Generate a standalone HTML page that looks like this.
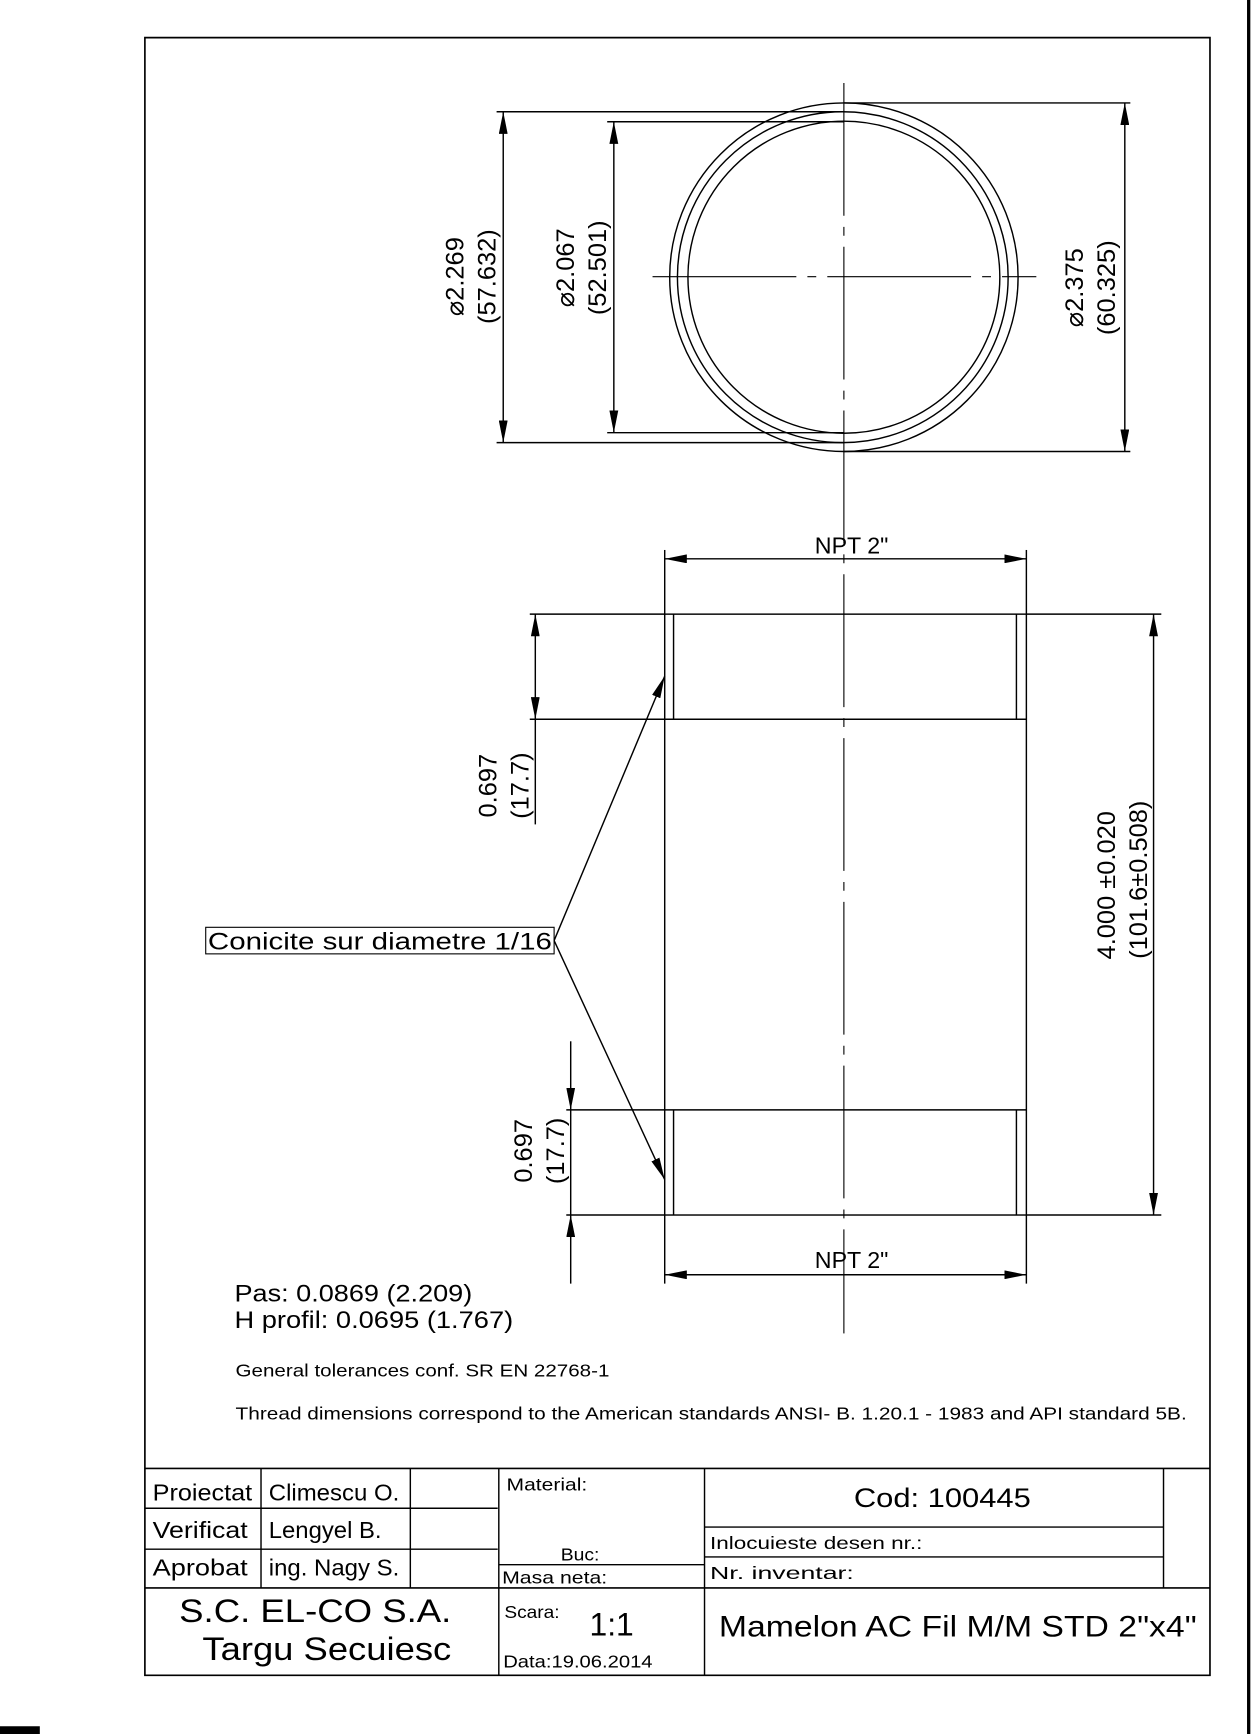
<!DOCTYPE html>
<html><head><meta charset="utf-8"><style>
html,body{margin:0;padding:0;background:#fff;}
svg{display:block;}
text{font-family:"Liberation Sans",sans-serif;fill:#000;}
</style></head><body>
<svg width="1252" height="1734" viewBox="0 0 1132 1567" preserveAspectRatio="none" xmlns="http://www.w3.org/2000/svg">
<defs>
<marker id="a" viewBox="0 0 20 8" refX="20" refY="4" markerWidth="20" markerHeight="8" markerUnits="userSpaceOnUse" orient="auto-start-reverse"><path d="M0,0 L20,4 L0,8 z" fill="#000"/></marker>
</defs>
<g stroke="#000" fill="none" stroke-width="1.3">
<path d="M131,34 L1094,34 L1094,1514 L131,1514 Z" stroke-width="1.5"/>
<line x1="1129" y1="0" x2="1129" y2="1567" stroke-width="3"/>
<circle cx="763" cy="250.5" r="157.5"/>
<circle cx="762" cy="250.5" r="149.5"/>
<circle cx="763" cy="250.5" r="141"/>
<line x1="763" y1="75" x2="763" y2="1205" stroke-width="1" stroke-dasharray="120,10,8,10"/>
<line x1="590" y1="250" x2="937" y2="250" stroke-width="1" stroke-dasharray="130,10,8,10"/>
<line x1="449" y1="101" x2="763" y2="101"/>
<line x1="449" y1="400" x2="763" y2="400"/>
<line x1="455" y1="101" x2="455" y2="400" marker-start="url(#a)" marker-end="url(#a)"/>
<line x1="549" y1="110" x2="763" y2="110"/>
<line x1="549" y1="391" x2="763" y2="391"/>
<line x1="555" y1="110" x2="555" y2="391" marker-start="url(#a)" marker-end="url(#a)"/>
<line x1="763" y1="93" x2="1022" y2="93"/>
<line x1="763" y1="408" x2="1022" y2="408"/>
<line x1="1017" y1="93" x2="1017" y2="408" marker-start="url(#a)" marker-end="url(#a)"/>
<rect x="601" y="555" width="327" height="543"/>
<line x1="601" y1="650" x2="928" y2="650"/>
<line x1="601" y1="1003" x2="928" y2="1003"/>
<line x1="609" y1="555" x2="609" y2="650"/>
<line x1="919" y1="555" x2="919" y2="650"/>
<line x1="609" y1="1003" x2="609" y2="1098"/>
<line x1="919" y1="1003" x2="919" y2="1098"/>
<line x1="601" y1="497" x2="601" y2="555"/>
<line x1="928" y1="497" x2="928" y2="555"/>
<line x1="601" y1="505" x2="928" y2="505" marker-start="url(#a)" marker-end="url(#a)"/>
<line x1="601" y1="1098" x2="601" y2="1160"/>
<line x1="928" y1="1098" x2="928" y2="1160"/>
<line x1="601" y1="1152" x2="928" y2="1152" marker-start="url(#a)" marker-end="url(#a)"/>
<line x1="479" y1="555" x2="601" y2="555"/>
<line x1="479" y1="650" x2="601" y2="650"/>
<line x1="484" y1="555" x2="484" y2="650" marker-start="url(#a)" marker-end="url(#a)"/>
<line x1="484" y1="650" x2="484" y2="745"/>
<line x1="512" y1="1003" x2="601" y2="1003"/>
<line x1="512" y1="1098" x2="601" y2="1098"/>
<line x1="516" y1="941" x2="516" y2="1003" marker-end="url(#a)"/>
<line x1="516" y1="1160" x2="516" y2="1098" marker-end="url(#a)"/>
<line x1="516" y1="1003" x2="516" y2="1098"/>
<line x1="928" y1="555" x2="1050" y2="555"/>
<line x1="928" y1="1098" x2="1050" y2="1098"/>
<line x1="1043" y1="555" x2="1043" y2="1098" marker-start="url(#a)" marker-end="url(#a)"/>
<rect x="186" y="838" width="315" height="24" stroke-width="1"/>
<line x1="501" y1="850" x2="601" y2="611" marker-end="url(#a)"/>
<line x1="501" y1="850" x2="601" y2="1066" marker-end="url(#a)"/>
<line x1="131" y1="1327" x2="1094" y2="1327" stroke-width="1.5"/>
<line x1="131" y1="1363" x2="450" y2="1363"/>
<line x1="131" y1="1400" x2="450" y2="1400"/>
<line x1="131" y1="1435" x2="1094" y2="1435" stroke-width="1.5"/>
<line x1="236" y1="1327" x2="236" y2="1435"/>
<line x1="371" y1="1327" x2="371" y2="1435"/>
<line x1="451" y1="1327" x2="451" y2="1514"/>
<line x1="637" y1="1327" x2="637" y2="1514"/>
<line x1="1052" y1="1327" x2="1052" y2="1435"/>
<line x1="451" y1="1414" x2="637" y2="1414"/>
<line x1="637" y1="1380" x2="1052" y2="1380"/>
<line x1="637" y1="1407" x2="1052" y2="1407"/>
</g>
<rect x="0" y="1560" width="36" height="7" fill="#000"/>
<g font-size="23">
<text transform="translate(419,250) rotate(-90)" text-anchor="middle">⌀2.269</text>
<text transform="translate(448,250) rotate(-90)" text-anchor="middle">(57.632)</text>
<text transform="translate(519,242) rotate(-90)" text-anchor="middle">⌀2.067</text>
<text transform="translate(548,242) rotate(-90)" text-anchor="middle">(52.501)</text>
<text transform="translate(979,260) rotate(-90)" text-anchor="middle">⌀2.375</text>
<text transform="translate(1008,260) rotate(-90)" text-anchor="middle">(60.325)</text>
<text transform="translate(449,710) rotate(-90)" text-anchor="middle">0.697</text>
<text transform="translate(478,710) rotate(-90)" text-anchor="middle">(17.7)</text>
<text transform="translate(481,1040) rotate(-90)" text-anchor="middle">0.697</text>
<text transform="translate(510,1040) rotate(-90)" text-anchor="middle">(17.7)</text>
<text transform="translate(1008,800) rotate(-90)" text-anchor="middle">4.000 ±0.020</text>
<text transform="translate(1037,795) rotate(-90)" text-anchor="middle">(101.6±0.508)</text>
<text x="770" y="500" text-anchor="middle" font-size="21">NPT 2"</text>
<text x="770" y="1146" text-anchor="middle" font-size="21">NPT 2"</text>
<text x="188" y="858" font-size="22" textLength="311" lengthAdjust="spacingAndGlyphs">Conicite sur diametre 1/16</text>
<text x="212" y="1176" font-size="22" textLength="215" lengthAdjust="spacingAndGlyphs">Pas: 0.0869 (2.209)</text>
<text x="212" y="1200" font-size="22" textLength="252" lengthAdjust="spacingAndGlyphs">H profil: 0.0695 (1.767)</text>
</g>
<text x="213" y="1244" font-size="16" textLength="338" lengthAdjust="spacingAndGlyphs">General tolerances conf. SR EN 22768-1</text>
<text x="213" y="1283" font-size="16" textLength="860" lengthAdjust="spacingAndGlyphs">Thread dimensions correspond to the American standards ANSI- B. 1.20.1 - 1983 and API standard 5B.</text>
<g font-size="21">
<text x="138" y="1356" textLength="90" lengthAdjust="spacingAndGlyphs">Proiectat</text>
<text x="243" y="1356" textLength="118" lengthAdjust="spacingAndGlyphs">Climescu O.</text>
<text x="138" y="1390" textLength="86" lengthAdjust="spacingAndGlyphs">Verificat</text>
<text x="243" y="1390" textLength="102" lengthAdjust="spacingAndGlyphs">Lengyel B.</text>
<text x="138" y="1424" textLength="86" lengthAdjust="spacingAndGlyphs">Aprobat</text>
<text x="243" y="1424" textLength="118" lengthAdjust="spacingAndGlyphs">ing. Nagy S.</text>
</g>
<g font-size="16">
<text x="458" y="1347" textLength="73" lengthAdjust="spacingAndGlyphs">Material:</text>
<text x="507" y="1410" textLength="35" lengthAdjust="spacingAndGlyphs">Buc:</text>
<text x="454" y="1431" textLength="95" lengthAdjust="spacingAndGlyphs">Masa neta:</text>
<text x="642" y="1400" textLength="192" lengthAdjust="spacingAndGlyphs">Inlocuieste desen nr.:</text>
<text x="642" y="1427" textLength="130" lengthAdjust="spacingAndGlyphs">Nr. inventar:</text>
<text x="456" y="1462" textLength="50" lengthAdjust="spacingAndGlyphs">Scara:</text>
<text x="455" y="1507" textLength="135" lengthAdjust="spacingAndGlyphs">Data:19.06.2014</text>
</g>
<text x="772" y="1362" font-size="24" textLength="160" lengthAdjust="spacingAndGlyphs">Cod: 100445</text>
<text x="162" y="1466" font-size="29" textLength="246" lengthAdjust="spacingAndGlyphs">S.C. EL-CO S.A.</text>
<text x="183" y="1500" font-size="29" textLength="225" lengthAdjust="spacingAndGlyphs">Targu Secuiesc</text>
<text x="533" y="1478" font-size="29" textLength="40" lengthAdjust="spacingAndGlyphs">1:1</text>
<text x="650" y="1479" font-size="27" textLength="432" lengthAdjust="spacingAndGlyphs">Mamelon AC Fil M/M STD 2"x4"</text>
</svg>
</body></html>
